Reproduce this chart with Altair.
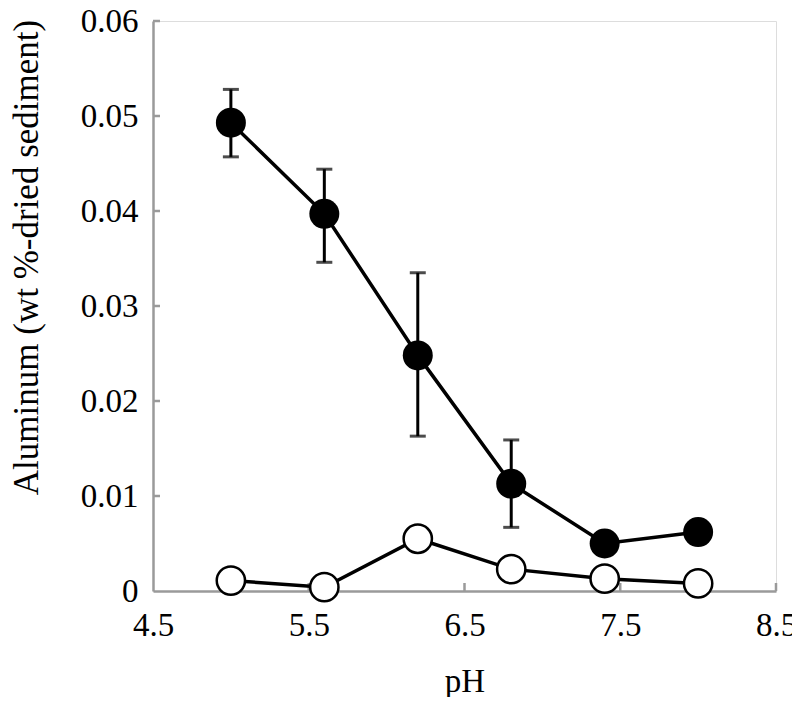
import altair as alt
import pandas as pd

ph = [5.0, 5.6, 6.2, 6.8, 7.4, 8.0]
filled = [0.0493, 0.0397, 0.0248, 0.0113, 0.0050, 0.0062]
err_low = [0.0457, 0.0346, 0.0163, 0.0067, None, None]
err_high = [0.0528, 0.0444, 0.0335, 0.0159, None, None]
open_vals = [0.0011, 0.0004, 0.0055, 0.0023, 0.0013, 0.0008]

x_ticks = [4.5, 5.5, 6.5, 7.5, 8.5]
y_ticks = [0, 0.01, 0.02, 0.03, 0.04, 0.05, 0.06]

FONT = "Liberation Serif"
AXIS_GRAY = "#9a9a9a"
Y_TITLE = "Aluminum (wt %-dried sediment)"

PLOT_H = 570

df_f = pd.DataFrame({"ph": ph, "al": filled})
df_o = pd.DataFrame({"ph": ph, "al": open_vals})
df_e = pd.DataFrame({"ph": ph, "lo": err_low, "hi": err_high}).dropna()
df_xt = pd.DataFrame({"v": x_ticks[1:]})
df_yt = pd.DataFrame({"v": y_ticks[1:]})

xscale = alt.Scale(domain=[4.5, 8.5], nice=False, zero=False)
yscale = alt.Scale(domain=[0, 0.06], nice=False)

xaxis = alt.Axis(values=x_ticks, format=".1f", grid=False, ticks=False, tickSize=0,
                 labelPadding=18, labelFont=FONT, labelFontSize=33, labelColor="black",
                 domainColor=AXIS_GRAY, domainWidth=2.5, title="pH", titleFont=FONT,
                 titleFontSize=33, titleFontWeight="normal", titleColor="black",
                 titleBaseline="alphabetic", titleY=100, labelFlush=False)
yaxis = alt.Axis(values=y_ticks, labelExpr="datum.value == 0 ? '0' : format(datum.value, '.2f')",
                 grid=False, ticks=False, tickSize=0, labelPadding=15, labelFont=FONT,
                 labelFontSize=33, labelColor="black", domainColor=AXIS_GRAY, domainWidth=2.5,
                 title=Y_TITLE, titleFont=FONT, titleFontSize=35,
                 titleFontWeight="normal", titleColor="black", titleAngle=-90,
                 titleAlign="center", titleBaseline="alphabetic", titleX=-116, titleY=236,
                 labelFlush=False)

X = alt.X("ph:Q", scale=xscale, axis=xaxis, title="pH")
Y = alt.Y("al:Q", scale=yscale, axis=yaxis, title=Y_TITLE)

line_f = alt.Chart(df_f).mark_line(color="black", strokeWidth=3.5).encode(x=X, y=Y)
line_o = alt.Chart(df_o).mark_line(color="black", strokeWidth=3.5).encode(x=X, y=Y)

err = alt.Chart(df_e).mark_errorbar(
    color="black", thickness=3, ticks={"size": 16, "thickness": 3, "color": "black"}
).encode(
    x=alt.X("ph:Q", scale=xscale, axis=xaxis, title="pH"),
    y=alt.Y("lo:Q", scale=yscale, axis=yaxis, title=Y_TITLE),
    y2="hi:Q",
)

pts_f = alt.Chart(df_f).mark_point(shape="circle", filled=True, color="black", size=900,
                                    opacity=1).encode(x=X, y=Y)
pts_o = alt.Chart(df_o).mark_point(shape="circle", filled=True, fill="white", stroke="black",
                                    strokeWidth=2.5, size=800, opacity=1).encode(x=X, y=Y)

xt = alt.Chart(df_xt).mark_rule(color=AXIS_GRAY, strokeWidth=2.5).encode(
    x=alt.X("v:Q", scale=xscale, axis=xaxis, title="pH"),
    y=alt.value(PLOT_H), y2=alt.value(PLOT_H - 8))
yt = alt.Chart(df_yt).mark_rule(color=AXIS_GRAY, strokeWidth=2.5).encode(
    y=alt.Y("v:Q", scale=yscale, axis=yaxis, title=Y_TITLE),
    x=alt.value(0), x2=alt.value(7))

chart = alt.layer(xt, yt, line_f, line_o, err, pts_f, pts_o).properties(
    width=623, height=PLOT_H, autosize="none",
    padding={"left": 145, "top": 13, "right": 16, "bottom": 106},
).configure_view(stroke=None).configure(background="white")

chart.save("out.html", embed_options={"renderer": "svg", "actions": False})
